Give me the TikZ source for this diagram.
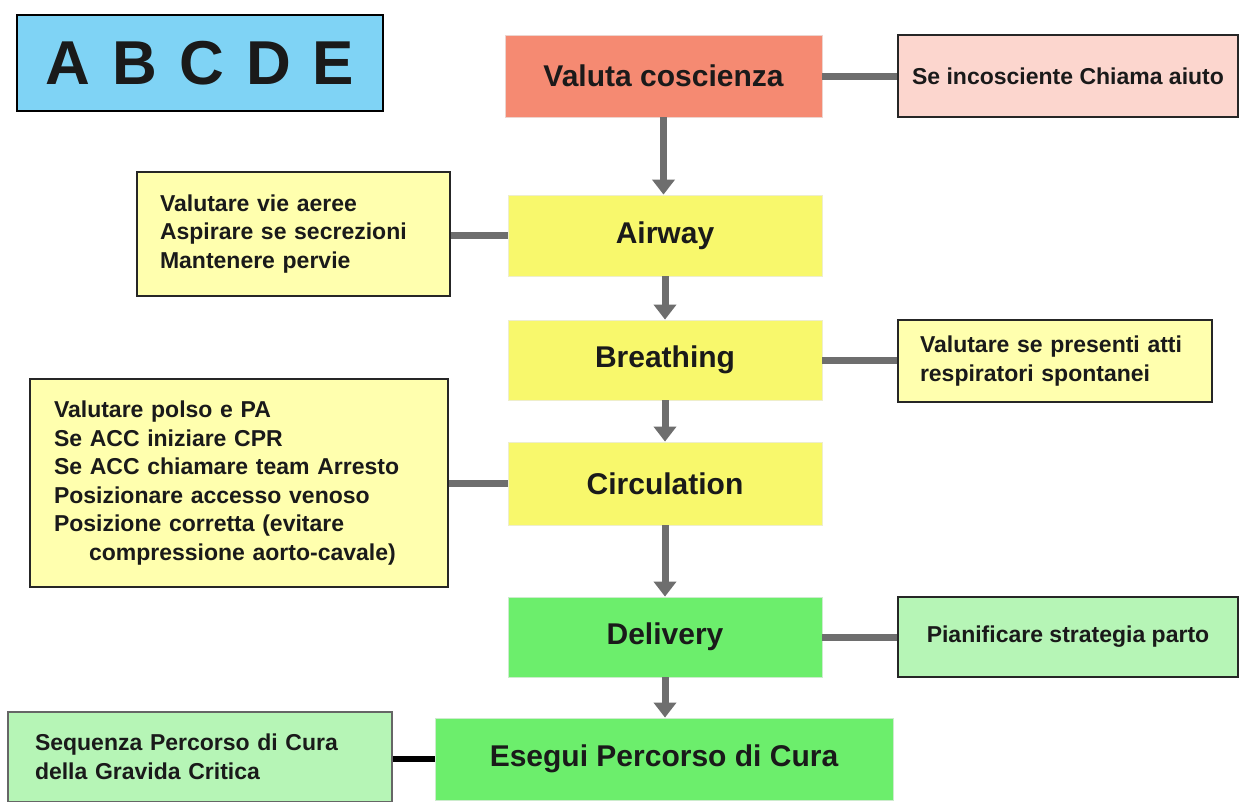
\documentclass[tikz,border=0pt]{standalone}
\usepackage{fontspec}
\setmainfont{Liberation Sans}
\usetikzlibrary{arrows.meta}

\definecolor{inkgray}{HTML}{6E6E6E}
\definecolor{abcblue}{HTML}{7FD3F5}
\definecolor{salmon}{HTML}{F58A72}
\definecolor{pinkside}{HTML}{FCD6CE}
\definecolor{mainyellow}{HTML}{F8F86C}
\definecolor{sideyellow}{HTML}{FFFFAE}
\definecolor{maingreen}{HTML}{6CEE6C}
\definecolor{sidegreen}{HTML}{B6F5B6}
\definecolor{textdark}{HTML}{1A1A1A}

\tikzset{
  mainbox/.style={draw=#1!80!black!30, line width=0.8pt, fill=#1, inner sep=0pt,
    text=textdark, font=\bfseries\fontsize{30}{34}\selectfont},
  sidebox/.style={draw=black!85, line width=2pt, fill=#1, inner sep=0pt,
    text=textdark, font=\bfseries\fontsize{23}{28.5}\selectfont},
  link/.style={draw=inkgray, line width=7pt},
  flow/.style={draw=inkgray, line width=7pt,
    -{Triangle[width=22pt,length=15pt]}},
}

\begin{document}
\begin{tikzpicture}[x=1pt,y=-1pt]
\useasboundingbox (0,0) rectangle (1243,801);
\fill[white] (0,0) rectangle (1243,801);

% title box
\node[draw=black, line width=2.5pt, fill=abcblue, minimum width=366pt, minimum height=96pt,
      font=\bfseries\fontsize{62}{62}\selectfont, text=textdark]
  (abc) at (200,63) {A\kern22pt B\kern22pt C\kern22pt D\kern22pt E};

% main column
\node[mainbox=salmon, minimum width=317pt, minimum height=82pt] (val) at (663.5,76) {Valuta coscienza};
\node[mainbox=mainyellow, minimum width=314pt, minimum height=81pt] (air) at (665,235.5) {Airway};
\node[mainbox=mainyellow, minimum width=314pt, minimum height=80pt] (bre) at (665,360) {Breathing};
\node[mainbox=mainyellow, minimum width=314pt, minimum height=83pt] (cir) at (665,483.5) {Circulation};
\node[mainbox=maingreen, minimum width=314pt, minimum height=80pt] (del) at (665,637) {Delivery};
\node[mainbox=maingreen, minimum width=458pt, minimum height=82pt] (ese) at (664,759) {Esegui Percorso di Cura};

% side notes
\node[sidebox=pinkside, minimum width=340pt, minimum height=82pt] (inc) at (1068,76) {Se incosciente Chiama aiuto};
\node[sidebox=sideyellow, minimum width=313pt, minimum height=124pt, text width=267pt, align=left]
  (airN) at (293.5,234) {Valutare vie aeree\\Aspirare se secrezioni\\Mantenere pervie};
\node[sidebox=sideyellow, minimum width=314pt, minimum height=82pt, text width=270pt, align=left]
  (breN) at (1055,361) {Valutare se presenti atti\\respiratori spontanei};
\node[sidebox=sideyellow, minimum width=418pt, minimum height=208pt, text width=370pt, align=left]
  (cirN) at (239,483) {Valutare polso e PA\\Se ACC iniziare CPR\\Se ACC chiamare team Arresto\\Posizionare accesso venoso\\Posizione corretta (evitare\\\hspace*{35pt}compressione aorto-cavale)};
\node[sidebox=sidegreen, minimum width=340pt, minimum height=80pt] (delN) at (1068,637) {Pianificare strategia parto};
\node[sidebox=sidegreen, draw=black!60, line width=1.2pt, minimum width=384pt, minimum height=90pt,
      text width=330pt, align=left] (eseN) at (200,757) {Sequenza Percorso di Cura\\della Gravida Critica};

% side links
\draw[link] (val.east) -- (val.east -| inc.west);
\draw[link] (air.west) -- (air.west -| airN.east);
\draw[link] (bre.east) -- (bre.east -| breN.west);
\draw[link] (cir.west) -- (cir.west -| cirN.east);
\draw[link] (del.east) -- (del.east -| delN.west);
\draw[draw=black, line width=6pt] (eseN.east |- ese.west) -- (ese.west);

% main flow
\draw[flow] (val.south) -- (val.south |- air.north);
\draw[flow] (air.south) -- (air.south |- bre.north);
\draw[flow] (bre.south) -- (bre.south |- cir.north);
\draw[flow] (cir.south) -- (cir.south |- del.north);
\draw[flow] (del.south) -- (del.south |- ese.north);
\end{tikzpicture}
\end{document}
